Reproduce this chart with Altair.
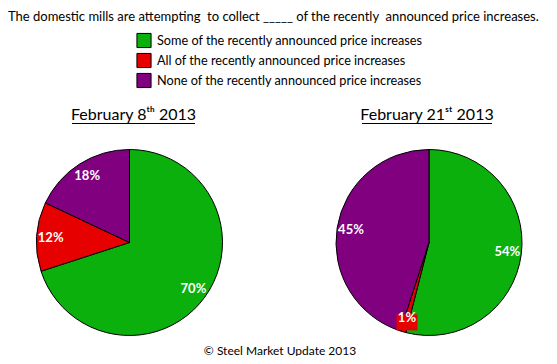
import altair as alt
import pandas as pd

categories = [
    "Some of the recently announced price increases",
    "All of the recently announced price increases",
    "None of the recently announced price increases",
]
colors = ["#0CB00C", "#E60000", "#800080"]
dates = ["February 8ᵗʰ 2013", "February 21ˢᵗ 2013"]
feb8_values = [70, 12, 18]
feb21_values = [54, 1, 45]
title_text = "The domestic mills are attempting\u00a0 to collect _____ of the recently\u00a0 announced price increases."
footer_text = "© Steel Market Update 2013"

rows = []
for d, vals in zip(dates, [feb8_values, feb21_values]):
    for i, (c, v) in enumerate(zip(categories, vals)):
        rows.append({"date": d, "category": c, "value": v, "order": i, "label": f"{v}%"})
df = pd.DataFrame(rows)

FONT = "Lato"
R = 93
LR = 79
CX = [121.5, 421]
CY = 234.5

color = alt.Color(
    "category:N",
    scale=alt.Scale(domain=categories, range=colors),
    legend=alt.Legend(
        title=None, orient="none", legendX=128, legendY=24.5,
        symbolType="square", symbolSize=200, symbolStrokeColor="black",
        symbolStrokeWidth=1, symbolOpacity=1, labelFont=FONT, labelFontSize=12.7,
        labelColor="black", rowPadding=0, labelOffset=5, labelLimit=400,
    ),
)

base = alt.Chart(df)

def pie(i):
    return base.transform_filter(alt.datum.date == dates[i]).mark_arc(
        radius=R, stroke="black", strokeWidth=1
    ).encode(
        theta=alt.Theta("value:Q", stack=True),
        color=color,
        order=alt.Order("order:Q"),
        x=alt.value(CX[i]),
        y=alt.value(CY),
    )

pos = base.transform_window(
    cum="sum(value)", sort=[alt.SortField("order")], groupby=["date"], frame=[None, 0]
).transform_calculate(
    cx=f"datum.date == '{dates[0]}' ? {CX[0]} : {CX[1]}",
    mid="(datum.cum - datum.value / 2) / 100 * 2 * PI",
).transform_calculate(
    px=f"datum.cx + {LR} * sin(datum.mid)",
    py=f"{CY} - {LR} * cos(datum.mid)",
)

box = pos.transform_filter(alt.datum.value < 5).transform_calculate(
    bx1="datum.px - 10.5", bx2="datum.px + 10.5", by1="datum.py - 4", by2="datum.py + 12"
).mark_rect(color="#E60000").encode(
    x=alt.X("bx1:Q", scale=None, axis=None),
    x2="bx2:Q",
    y=alt.Y("by1:Q", scale=None, axis=None),
    y2="by2:Q",
)

labels = pos.mark_text(
    font=FONT, fontSize=13, fontWeight="bold", color="white", baseline="middle", align="center"
).encode(
    x=alt.X("px:Q", scale=None, axis=None),
    y=alt.Y("py:Q", scale=None, axis=None),
    text="label:N",
)

def txt(text, x, y, size, align="left", weight="normal"):
    return alt.Chart(pd.DataFrame({"t": [text]})).mark_text(
        font=FONT, fontSize=size, align=align, baseline="alphabetic", color="black", fontWeight=weight
    ).encode(text="t:N", x=alt.value(x), y=alt.value(y))

title = txt(title_text, 0, 12.5, 13.0)
sub1 = txt(dates[0], 125.5, 112, 16, align="center")
sub2 = txt(dates[1], 419, 112, 16, align="center")
under1 = alt.Chart(pd.DataFrame({"a": [0]})).mark_rule(color="black", strokeWidth=1).encode(
    x=alt.value(64), x2=alt.value(187), y=alt.value(115.5))
under2 = alt.Chart(pd.DataFrame({"a": [0]})).mark_rule(color="black", strokeWidth=1).encode(
    x=alt.value(354), x2=alt.value(484), y=alt.value(115.5))
footer = txt(footer_text, 272, 346.5, 12, align="center")

chart = alt.layer(
    pie(0), pie(1), box, labels, title, sub1, sub2, under1, under2, footer
).properties(
    width=541, height=348, padding=0, autosize=alt.AutoSizeParams(type="none"),
    background="white",
).configure_view(stroke=None)

chart.save("out.html", embed_options={"renderer": "svg", "actions": False})
